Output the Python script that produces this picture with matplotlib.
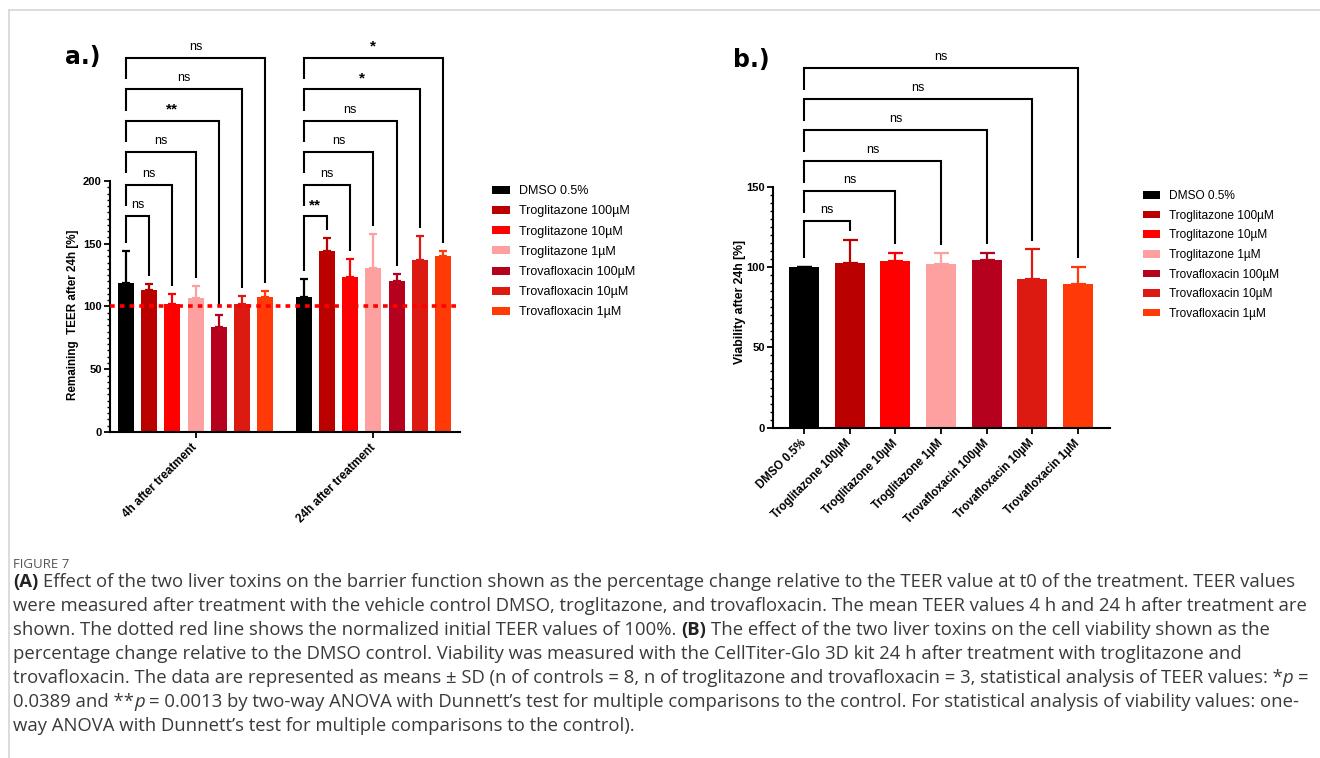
import numpy as np
import matplotlib
matplotlib.use('Agg')
import matplotlib.pyplot as plt
from matplotlib.patches import Patch
from matplotlib.lines import Line2D
from matplotlib.ticker import FixedLocator

# ---- data ----
treatments = ['DMSO 0.5%', 'Troglitazone 100µM', 'Troglitazone 10µM', 'Troglitazone 1µM',
              'Trovafloxacin 100µM', 'Trovafloxacin 10µM', 'Trovafloxacin 1µM']
colors = ['#000000', '#BB0000', '#FF0000', '#FFA0A0', '#B5001E', '#DC1A12', '#FF3A06']

timepoints = ['4h after treatment', '24h after treatment']
teer_4h = [119, 113.4, 102.2, 107, 83.7, 102.2, 107.5]
teer_4h_sd = [25, 4.3, 7.8, 9, 9.3, 6, 4.8]
teer_24h = [107.8, 144.5, 123.5, 130.4, 120.3, 137.3, 140]
teer_24h_sd = [14.2, 9.8, 14.5, 27, 5.3, 18.7, 4]
sig_4h = ['ns', 'ns', 'ns', '**', 'ns', 'ns']
sig_24h = ['**', 'ns', 'ns', 'ns', '*', '*']

viability = [100, 102.3, 103.7, 101.8, 104.4, 92.6, 89.5]
viability_sd = [0, 14.7, 5.3, 6.7, 4.6, 18.4, 10.8]
sig_via = ['ns', 'ns', 'ns', 'ns', 'ns', 'ns']

levels_a = [172, 197, 223, 248, 273, 298]
levels_b = [128.6, 147.3, 166, 185, 204.3, 223.6]

W, H = 1320, 758
plt.rcParams['font.family'] = ['Liberation Sans', 'DejaVu Sans']
fig = plt.figure(figsize=(W / 100, H / 100), dpi=100)


def style_axes(ax, ymax, yticks):
    for s in ['top', 'right']:
        ax.spines[s].set_visible(False)
    for s in ['left', 'bottom']:
        ax.spines[s].set_linewidth(1.5)
    ax.spines['left'].set_bounds(0, ymax)
    ax.set_yticks(yticks)
    ax.yaxis.set_minor_locator(FixedLocator(np.arange(0, ymax + 1, 5)))
    ax.tick_params(axis='y', which='major', length=4, width=1.3, labelsize=8, pad=2)
    ax.tick_params(axis='y', which='minor', length=2.2, width=1.0)
    ax.tick_params(axis='x', which='major', length=4, width=1.3, labelsize=8.5, pad=6)
    for lab in ax.get_yticklabels():
        lab.set_fontweight('bold')


def draw_brackets(ax, x0, xs, tops, levels, labels, ctrl_top, left_drop, gap):
    for i, (xt, top, lev, lab) in enumerate(zip(xs, tops, levels, labels)):
        lb = ctrl_top + gap if i == 0 else lev - left_drop
        ax.plot([x0, x0, xt, xt], [lb, lev, lev, top + gap], color='black', lw=1.5,
                clip_on=False, solid_joinstyle='miter', solid_capstyle='butt', zorder=3)
        star = lab != 'ns'
        ax.annotate(lab, ((x0 + xt) / 2, lev), xytext=(0, 8), textcoords='offset points',
                    ha='center', va='center', fontsize=11 if star else 9,
                    fontweight='bold' if star else 'normal', annotation_clip=False)


def draw_bars(ax, xs, vals, sds, width, capsize):
    ax.bar(xs, vals, width=width, color=colors, zorder=2)
    for xi, v, s, c in zip(xs, vals, sds, colors):
        ax.errorbar(xi, v, yerr=[[0], [s]], fmt='none', ecolor=c, elinewidth=1.6,
                    capsize=capsize, capthick=1.6, zorder=2)


# ---- panel a ----
ax_a = fig.add_axes([110 / W, 1 - 432 / H, 350 / W, 396 / H])
offsets = [0, 7.66]
series = [(teer_4h, teer_4h_sd, sig_4h), (teer_24h, teer_24h_sd, sig_24h)]
for off, (vals, sds, sig) in zip(offsets, series):
    xs = np.arange(7) + off
    draw_bars(ax_a, xs, vals, sds, 0.69, 3)
    tops = [v + s for v, s in zip(vals, sds)]
    draw_brackets(ax_a, xs[0], xs[1:], tops[1:], levels_a, sig, tops[0], 17, 6.5)
ax_a.axhline(100, color='#FF0000', lw=2.6, ls=(0, (1.3, 1.4)), zorder=4)
ax_a.set_xlim(-0.69, 14.39)
ax_a.set_ylim(0, 315.5)
style_axes(ax_a, 200, [0, 50, 100, 150, 200])
ax_a.set_xticks([3, 3 + 7.66])
ax_a.set_xticklabels(timepoints, rotation=45, ha='right', va='center',
                     rotation_mode='anchor', fontweight='bold')
ax_a.set_ylabel('Remaining  TEER after 24h [%]', fontsize=8.4, fontweight='bold')
ax_a.yaxis.set_label_coords(-31 / 350, 93 / 315.5)

# ---- panel b ----
ax_b = fig.add_axes([773 / W, 1 - 427.7 / H, 337 / W, 387.7 / H])
xb = np.arange(7)
draw_bars(ax_b, xb, viability, viability_sd, 0.66, 5.4)
tops_b = [v + s for v, s in zip(viability, viability_sd)]
draw_brackets(ax_b, xb[0], xb[1:], tops_b[1:], levels_b, sig_via, tops_b[0], 13.5, 5.5)
ax_b.set_xlim(-0.68, 6.70)
ax_b.set_ylim(0, 241.3)
style_axes(ax_b, 150, [0, 50, 100, 150])
ax_b.set_xticks(xb)
ax_b.set_xticklabels(treatments, rotation=45, ha='right', va='center',
                     rotation_mode='anchor', fontweight='bold', fontsize=8.3)
ax_b.set_ylabel('Viability after 24h [%]', fontsize=8.8, fontweight='bold')
ax_b.yaxis.set_label_coords(-27 / 337, 78 / 241.3)

# panel letters
fig.text(65 / W, 1 - 64 / H, 'a.)', fontsize=17, fontweight='bold', family='DejaVu Sans', va='baseline')
fig.text(733 / W, 1 - 67 / H, 'b.)', fontsize=17, fontweight='bold', family='DejaVu Sans', va='baseline')

# legends
handles = [Patch(facecolor=c, edgecolor='none') for c in colors]
fig.legend(handles, treatments, loc='upper left', bbox_to_anchor=(492 / W, 1 - 185 / H),
           frameon=False, fontsize=9, handlelength=1.45, handleheight=0.6,
           handletextpad=0.7, labelspacing=0.66, borderpad=0, borderaxespad=0)
fig.legend(handles, treatments, loc='upper left', bbox_to_anchor=(1143 / W, 1 - 190 / H),
           frameon=False, fontsize=8.6, handlelength=1.45, handleheight=0.6,
           handletextpad=0.7, labelspacing=0.64, borderpad=0, borderaxespad=0)

# frame
fig.add_artist(Line2D([9 / W, 1], [1 - 10 / H, 1 - 10 / H], transform=fig.transFigure,
                      color='#d6d6d6', lw=1.2))
fig.add_artist(Line2D([9 / W, 9 / W], [1 - 10 / H, 0], transform=fig.transFigure,
                      color='#d6d6d6', lw=1.2))

# caption
renderer = fig.canvas.get_renderer()
base = dict(family=['Open Sans', 'DejaVu Sans'], fontsize=13.3, color='#3a3a3a', va='baseline')
probe1 = fig.text(0, 0, 'a a', **base)
probe2 = fig.text(0, 0, 'aa', **base)
space_w = probe1.get_window_extent(renderer).width - probe2.get_window_extent(renderer).width
probe1.remove()
probe2.remove()

B = dict(fontweight='bold', color='#222222')
N = dict()
I = dict(style='italic')


def put_line(y, runs):
    x = 13
    for txt, kw in runs:
        x += (len(txt) - len(txt.lstrip(' '))) * space_w
        core = txt.strip(' ')
        t = fig.text(x / W, 1 - y / H, core, **{**base, **kw})
        x += t.get_window_extent(renderer).width
        x += (len(txt) - len(txt.rstrip(' '))) * space_w


fig.text(13 / W, 1 - 568 / H, 'FIGURE 7', family=['Open Sans', 'DejaVu Sans'],
         fontsize=9.5, color='#555555', va='baseline')
caption = [
    [('(A)', B), (' Effect of the two liver toxins on the barrier function shown as the percentage change '
                  'relative to the TEER value at t0 of the treatment. TEER values', N)],
    [('were measured after treatment with the vehicle control DMSO, troglitazone, and trovafloxacin. '
      'The mean TEER values 4 h and 24 h after treatment are', N)],
    [('shown. The dotted red line shows the normalized initial TEER values of 100%. ', N), ('(B)', B),
     (' The effect of the two liver toxins on the cell viability shown as the', N)],
    [('percentage change relative to the DMSO control. Viability was measured with the CellTiter-Glo 3D '
      'kit 24 h after treatment with troglitazone and', N)],
    [('trovafloxacin. The data are represented as means \u00b1 SD (n of controls = 8, n of troglitazone '
      'and trovafloxacin = 3, statistical analysis of TEER values: *', N), ('p', I), (' =', N)],
    [('0.0389 and **', N), ('p', I), (' = 0.0013 by two-way ANOVA with Dunnett\u2019s test for multiple '
                                      'comparisons to the control. For statistical analysis of viability values: one-', N)],
    [('way ANOVA with Dunnett\u2019s test for multiple comparisons to the control).', N)],
]
for i, runs in enumerate(caption):
    put_line(587 + 24 * i, runs)

fig.savefig('out.png', dpi=100, facecolor='white')
